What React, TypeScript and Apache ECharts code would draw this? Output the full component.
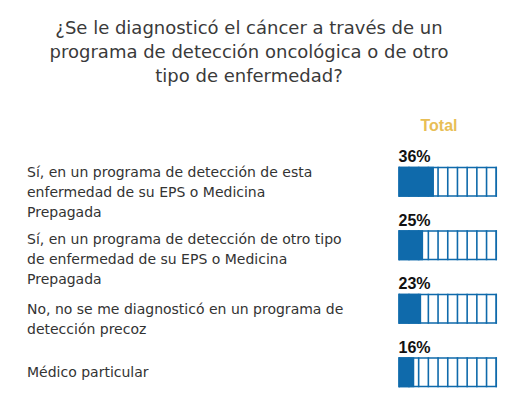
import React, { useEffect, useRef } from "react";
import * as echarts from "echarts";

const titleLines = [
  "¿Se le diagnosticó el cáncer a través de un",
  "programa de detección oncológica o de otro",
  "tipo de enfermedad?",
];
const columnHeader = "Total";
const categories = [
  "Sí, en un programa de detección de esta\nenfermedad de su EPS o Medicina\nPrepagada",
  "Sí, en un programa de detección de otro tipo\nde enfermedad de su EPS o Medicina\nPrepagada",
  "No, no se me diagnosticó en un programa de\ndetección precoz",
  "Médico particular",
];
const values = [36, 25, 23, 16];
const fullScale = [100, 100, 100, 100];

// layout-only: vertical shift (px) of each category label relative to its bar
const labelShift = [10, 14, 10, 0];

const BLUE = "#0F6AAB";
const TEXT = "#333333";

export default function App() {
  const ref = useRef<HTMLDivElement>(null);
  useEffect(() => {
    if (!ref.current) return;
    const chart = echarts.init(ref.current, undefined, { renderer: "svg" });
    const gridLeft = 398.5;
    const gridWidth = 98.5;
    const rich: Record<string, any> = {};
    labelShift.forEach((s, i) => {
      if (s > 0) rich["g" + i] = { lineHeight: s * 2, height: s * 2, fontSize: 1 };
    });
    chart.setOption({
      animation: false,
      backgroundColor: "#ffffff",
      grid: {
        left: gridLeft,
        top: 150,
        width: gridWidth,
        height: 254,
        containLabel: false,
        outerBoundsMode: "none",
      },
      xAxis: { type: "value", min: 0, max: 100, show: false },
      yAxis: {
        type: "category",
        inverse: true,
        data: categories,
        axisLine: { show: false },
        axisTick: { show: false },
        splitLine: { show: false },
        axisLabel: {
          interval: 0,
          hideOverlap: false,
          align: "left",
          verticalAlign: "middle",
          margin: gridLeft - 27,
          color: TEXT,
          fontFamily: "DejaVu Sans",
          fontSize: 14,
          lineHeight: 20,
          formatter: (value: string, index: number) =>
            labelShift[index] > 0 ? `{g${index}| }\n${value}` : value,
          rich,
        },
      },
      graphic: [
        {
          type: "text",
          x: 249,
          y: 15,
          style: {
            text: titleLines.join("\n"),
            textAlign: "center",
            textVerticalAlign: "top",
            fontFamily: "DejaVu Sans",
            fontSize: 18,
            lineHeight: 24,
            fill: "#3a3a3a",
          },
        },
        {
          type: "text",
          x: 439,
          y: 125,
          style: {
            text: columnHeader,
            textAlign: "center",
            textVerticalAlign: "middle",
            fontFamily: "Liberation Sans",
            fontWeight: "bold",
            fontSize: 16,
            fill: "#E8BE55",
          },
        },
      ],
      series: [
        {
          type: "bar",
          data: fullScale,
          barWidth: 30,
          barGap: "-100%",
          itemStyle: { color: "#ffffff", borderColor: BLUE, borderWidth: 1.5 },
          z: 1,
          silent: true,
        },
        {
          type: "pictorialBar",
          data: fullScale,
          symbol: "rect",
          symbolRepeat: 11,
          symbolBoundingData: 100,
          symbolSize: [1.5, 30],
          itemStyle: { color: BLUE },
          z: 2,
          silent: true,
        },
        {
          type: "bar",
          data: values,
          barWidth: 30,
          barGap: "-100%",
          itemStyle: { color: BLUE },
          z: 3,
          label: {
            show: true,
            position: [0, -18],
            align: "left",
            verticalAlign: "top",
            formatter: "{c}%",
            fontFamily: "Liberation Sans",
            fontWeight: "bold",
            fontSize: 16,
            color: "#111111",
          },
        },
      ],
    });
    return () => chart.dispose();
  }, []);
  return (
    <div
      ref={ref}
      style={{ position: "absolute", left: 0, top: 0, width: 528, height: 402 }}
    />
  );
}
